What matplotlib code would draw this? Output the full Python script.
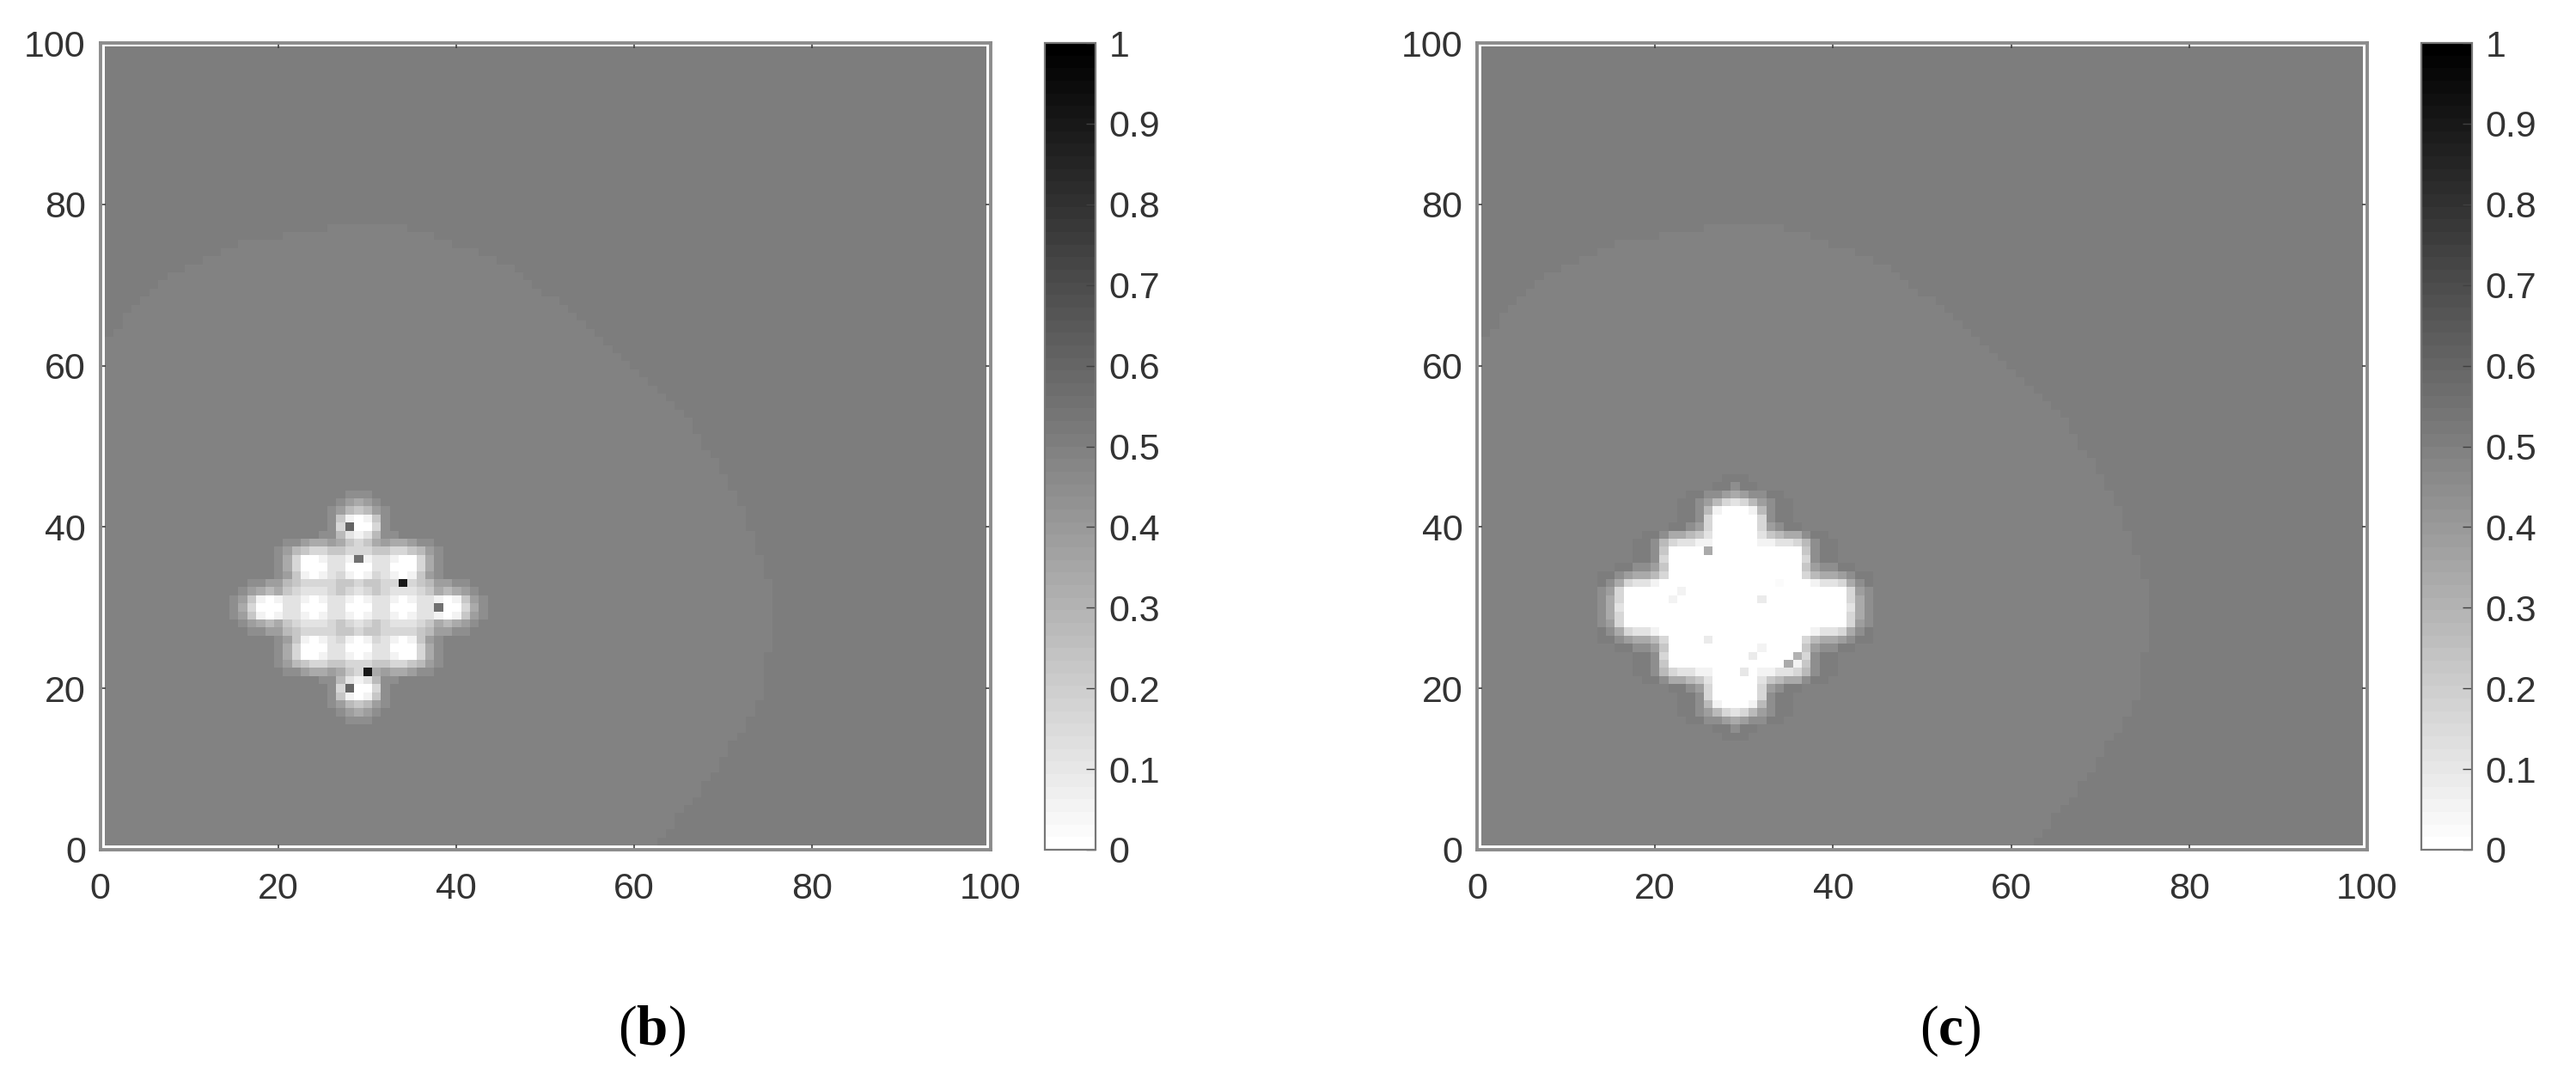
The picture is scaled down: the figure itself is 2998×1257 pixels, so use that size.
import matplotlib
matplotlib.use('Agg')
import matplotlib.pyplot as plt
from matplotlib.colors import ListedColormap
from matplotlib.path import Path
import numpy as np

W, H = 2998, 1257

plt.rcParams['font.family'] = ['Liberation Sans', 'DejaVu Sans']
plt.rcParams['mathtext.fontset'] = 'custom'
plt.rcParams['mathtext.rm'] = 'Liberation Serif'
plt.rcParams['mathtext.bf'] = 'Liberation Serif:bold'

axis_ticks = [0, 20, 40, 60, 80, 100]
cbar_ticks = [0, 0.1, 0.2, 0.3, 0.4, 0.5, 0.6, 0.7, 0.8, 0.9, 1]
cbar_labels = ['0', '0.1', '0.2', '0.3', '0.4', '0.5', '0.6', '0.7', '0.8', '0.9', '1']

# outline of the slightly lighter background region
region_x = [0, 0, 4, 9, 15, 25, 35, 45, 55, 65, 72, 76, 74, 68, 62]
region_y = [0, 62, 68, 72, 75, 77, 77, 73, 65, 55, 43, 30, 18, 8, 0]
level_inside = 0.49
level_outside = 0.51
level_ring = 0.515

# blob cells, x = 14..44, digit * 0.055, '.' keeps the background, '+' darker ring
blob_b_top = 45
blob_b = [
    "...............................",
    "..............888..............",
    ".............87678.............",
    "............8754578............",
    "............8410148............",
    "............8300038............",
    "...........885212588...........",
    ".......88766764346766788.......",
    "......8754334433344334578......",
    "......8630012210122100368......",
    "......8630002200022000368......",
    "......8741012310132101478......",
    "...8877543333443443333457788...",
    "..876564322234323432223465678..",
    ".87410122101221012210122101478.",
    ".86300022000220002200022000368.",
    ".87410122101221012210122101478.",
    "..876564322234323432223465678..",
    "...8877543333443443333457788...",
    "......8741012310132101478......",
    "......8630002200022000368......",
    "......8630012210122100368......",
    "......8754334433344334578......",
    ".......88766764346766788.......",
    "...........885212588...........",
    "............8300038............",
    "............8410148............",
    "............8754578............",
    ".............87678.............",
    "..............888..............",
    "...............................",
]

blob_c_top = 46
blob_c = [
    "..............+++..............",
    ".............++8++.............",
    "..........++8876788++..........",
    ".........++875323578++.........",
    ".........++851000158++.........",
    ".........++830000038++.........",
    "........++87300000378++........",
    ".....++86654200000245668++.....",
    "....++8532211000001122358++....",
    "....++8400000000000000048++....",
    "....++8300000000000000038++....",
    "..++88740000000000000004788++..",
    "++876653000000000000000356678++",
    "+86322100000000000000000122368+",
    "8730000000000000000000000000378",
    "8630000000000000000000000000368",
    "8620000000000000000000000000268",
    "8630000000000000000000000000368",
    "8730000000000000000000000000378",
    "+86322100000000000000000122368+",
    "++876653000000000000000356678++",
    "..++88740000000000000004788++..",
    "....++8300000000000000038++....",
    "....++8400000000000000048++....",
    "....++8532211000001122358++....",
    ".....++86654200000245668++.....",
    "........++87300000378++........",
    ".........++830000038++.........",
    ".........++851000158++.........",
    ".........++875323578++.........",
    "..........++8876788++..........",
    ".............++8++.............",
    "..............+++..............",
]

# single odd cells
spots_b_x = [28, 29, 34, 38, 30, 28]
spots_b_y = [40, 36, 33, 30, 22, 20]
spots_b_v = [0.60, 0.55, 0.90, 0.55, 0.90, 0.60]
spots_c_x = [26, 32, 22, 23, 26, 32, 31, 36, 35, 36, 30, 34]
spots_c_y = [37, 31, 31, 32, 26, 25, 24, 24, 23, 23, 22, 33]
spots_c_v = [0.33, 0.08, 0.06, 0.05, 0.08, 0.05, 0.08, 0.30, 0.33, 0.05, 0.10, 0.03]


def build_grid(rows, top, sx, sy, sv):
    xx, yy = np.meshgrid(np.arange(1, 100), np.arange(1, 100))
    pts = np.column_stack([xx.ravel(), yy.ravel()])
    inside = Path(np.column_stack([region_x, region_y])).contains_points(pts)
    grid = np.where(inside.reshape(xx.shape), level_inside, level_outside)
    for i, row in enumerate(rows):
        for j, c in enumerate(row):
            if c == '+':
                grid[top - i - 1, 14 + j - 1] = level_ring
            elif c != '.':
                grid[top - i - 1, 14 + j - 1] = int(c) * 0.055
    for x, y, v in zip(sx, sy, sv):
        grid[y - 1, x - 1] = v
    return grid


def box(x0, x1, y0, y1):
    return [x0 / W, 1 - y1 / H, (x1 - x0) / W, (y1 - y0) / H]


def panel(fig, cmap, grid, left, cb_left, label, label_x):
    ax = fig.add_axes(box(left, left + 1036, 50, 989))
    im = ax.imshow(grid, origin='lower', extent=(0.5, 99.5, 0.5, 99.5), cmap=cmap,
                   vmin=0, vmax=1, aspect='auto', interpolation='nearest')
    ax.set_xlim(0, 100)
    ax.set_ylim(0, 100)
    ax.set_xticks(axis_ticks)
    ax.set_yticks(axis_ticks)
    ax.tick_params(direction='in', top=True, right=True, length=4, width=1.2, color='#404040',
                   labelsize=31, labelcolor='#333333', pad=12)
    ax.tick_params(axis='x', pad=19)
    for s in ax.spines.values():
        s.set_color('#8c8c8c')
        s.set_linewidth(2.8)

    cax = fig.add_axes(box(cb_left, cb_left + 59, 50, 989))
    cb = fig.colorbar(im, cax=cax, ticks=cbar_ticks)
    cb.ax.set_yticklabels(cbar_labels)
    cb.ax.tick_params(direction='in', length=8, width=1, color='#404040',
                      labelsize=31, labelcolor='#333333', pad=11)
    cb.outline.set_edgecolor('#777777')
    cb.outline.set_linewidth(1.6)

    fig.text(label_x / W, 1 - 1200 / H, label, family='Liberation Serif', fontsize=47,
             color='black', ha='center', va='center')


def main():
    fig = plt.figure(figsize=(W / 100, H / 100), dpi=100)
    cmap = ListedColormap(plt.get_cmap('gray_r')(np.linspace(0, 1, 64)))
    grid_b = build_grid(blob_b, blob_b_top, spots_b_x, spots_b_y, spots_b_v)
    grid_c = build_grid(blob_c, blob_c_top, spots_c_x, spots_c_y, spots_c_v)
    panel(fig, cmap, grid_b, 116.5, 1216, r'(' + r'$\mathbf{b}$' + r')', 758)
    panel(fig, cmap, grid_c, 1719, 2818, r'(' + r'$\mathbf{c}$' + r')', 2270)
    fig.savefig('out.png', dpi=100)


if __name__ == '__main__':
    main()
